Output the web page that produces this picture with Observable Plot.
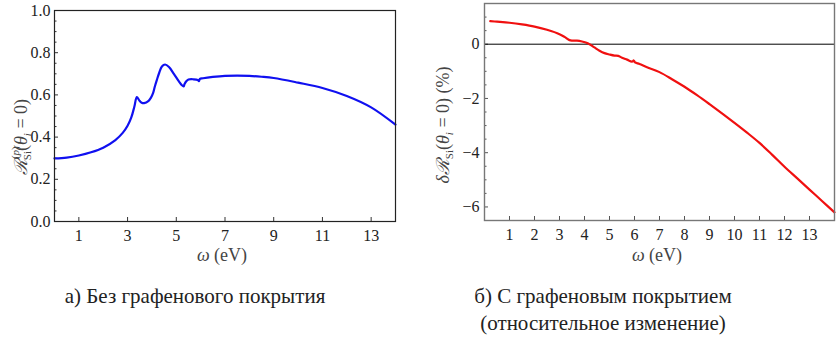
<!DOCTYPE html>
<html><head><meta charset="utf-8">
<script src="https://cdn.jsdelivr.net/npm/d3@7"></script>
<script src="https://cdn.jsdelivr.net/npm/@observablehq/plot@0.6"></script>
<style>
body{margin:0;background:#fff;}
#wrap{position:relative;width:838px;height:339px;font-family:'Liberation Serif',serif;color:#222;}
#pa{position:absolute;left:0;top:0;}
#pb{position:absolute;left:420px;top:0;}
svg text{font-family:'Liberation Serif',serif;}
.cap{position:absolute;font-family:'Liberation Serif',serif;font-size:21px;line-height:27px;white-space:nowrap;text-align:center;}
</style>
</head><body>
<div id="wrap">
  <div id="pa"></div>
  <div id="pb"></div>
  <div class="cap" id="ca" style="left:36px;top:283px;width:318px;">а) Без графенового покрытия</div>
  <div class="cap" id="cb" style="left:464px;top:283px;width:278px;">б) С графеновым покрытием<br>(относительное изменение)</div>
</div>
<script>
// Panel a: reflectivity without graphene
const omegaA = [0, 0.5, 1, 1.5, 2, 2.5, 2.8, 3, 3.15, 3.28, 3.38, 3.48, 3.58, 3.68, 3.85, 3.95, 4.05, 4.12, 4.2, 4.3, 4.41, 4.54, 4.7, 4.9, 5.1, 5.22, 5.3, 5.34, 5.42, 5.5, 5.7, 5.88, 5.93, 5.97, 6.1, 6.5, 7, 7.5, 8, 8.5, 9, 10, 11, 12, 13, 14];
const reflA  = [0.299, 0.303, 0.313, 0.328, 0.350, 0.386, 0.420, 0.454, 0.492, 0.545, 0.590, 0.574, 0.563, 0.561, 0.570, 0.585, 0.610, 0.640, 0.670, 0.705, 0.735, 0.744, 0.732, 0.700, 0.665, 0.647, 0.640, 0.652, 0.666, 0.673, 0.674, 0.671, 0.665, 0.676, 0.679, 0.685, 0.690, 0.691, 0.690, 0.686, 0.680, 0.658, 0.633, 0.595, 0.541, 0.459];
// Panel b: relative change with graphene (%)
const omegaB = [0.23, 0.5, 1, 1.5, 2, 2.5, 3, 3.2, 3.4, 3.5, 3.7, 3.9, 4.05, 4.2, 4.4, 4.6, 4.8, 5.0, 5.2, 5.35, 5.5, 5.7, 5.9, 5.97, 6.02, 6.2, 6.5, 7, 7.5, 8, 8.5, 9, 9.5, 10, 10.5, 11, 11.5, 12, 12.5, 13, 13.5, 14];
const deltaB = [0.85, 0.83, 0.79, 0.73, 0.65, 0.53, 0.37, 0.27, 0.15, 0.13, 0.13, 0.10, 0.06, 0.0, -0.12, -0.24, -0.33, -0.38, -0.42, -0.43, -0.50, -0.57, -0.64, -0.60, -0.67, -0.73, -0.85, -1.03, -1.29, -1.57, -1.88, -2.21, -2.55, -2.90, -3.26, -3.64, -4.07, -4.52, -4.94, -5.36, -5.78, -6.20];

const xTicksA = [1, 3, 5, 7, 9, 11, 13];
const yTicksA = [0, 0.2, 0.4, 0.6, 0.8, 1.0];
const yMinorA = [0.05, 0.1, 0.15, 0.25, 0.3, 0.35, 0.45, 0.5, 0.55, 0.65, 0.7, 0.75, 0.85, 0.9, 0.95];
const xTicksB = [1,2,3,4,5,6,7,8,9,10,11,12,13];
const yTicksB = [0, -2, -4, -6];
const yMinorB = [1.5, 1, 0.5, -0.5, -1, -1.5, -2.5, -3, -3.5, -4.5, -5, -5.5, -6.5];

const dataA = omegaA.map((x,i)=>({x, y: reflA[i]}));
const dataB = omegaB.map((x,i)=>({x, y: deltaB[i]}));

const FONT = "'Liberation Serif',serif";
const style = {fontFamily:FONT, fontSize:"16px", background:"#fff", color:"#222"};

function innerAxes(xt, yt, ym, color){
  return [
    Plot.axisX(xt, {tickSize:4, tickFormat:()=>"", dy:-4, stroke:color, label:null}),
    Plot.axisY(yt, {tickSize:4, tickFormat:()=>"", dx:4, stroke:color, label:null}),
    Plot.axisY(ym, {tickSize:2.5, tickFormat:()=>"", dx:2.5, stroke:color, label:null}),
    Plot.axisX(xt, {tickSize:0, tickPadding:8, fill:"#222", label:null}),
  ];
}

const plotA = Plot.plot({
  width:420, height:270, marginLeft:54, marginRight:25, marginTop:10, marginBottom:49,
  style,
  x:{domain:[0,14], label:null},
  y:{domain:[0,1], label:null},
  marks:[
    ...innerAxes(xTicksA, yTicksA, yMinorA, "#333"),
    Plot.axisY(yTicksA, {tickSize:0, tickPadding:4, tickFormat:d3.format(".1f"), fill:"#222", label:null}),
    Plot.line(dataA, {x:"x", y:"y", stroke:"#1010f0", strokeWidth:2.2, curve:"catmull-rom"}),
    Plot.frame({stroke:"#222", strokeWidth:1.2})
  ]
});

const plotB = Plot.plot({
  width:418, height:270, marginLeft:64, marginRight:4, marginTop:3, marginBottom:50,
  style,
  x:{domain:[0,14], label:null},
  y:{domain:[-6.5,1.5], label:null},
  marks:[
    ...innerAxes(xTicksB, yTicksB, yMinorB, "#555"),
    Plot.axisY(yTicksB, {tickSize:0, tickPadding:5, tickFormat:d3.format("d"), fill:"#222", label:null}),
    Plot.ruleY([0], {stroke:"#000", strokeWidth:1}),
    Plot.line(dataB, {x:"x", y:"y", stroke:"#f01010", strokeWidth:2.2, curve:"catmull-rom"}),
    Plot.frame({stroke:"#777", strokeWidth:1.4})
  ]
});

document.getElementById("pa").appendChild(plotA);
document.getElementById("pb").appendChild(plotB);

function addXLabel(svg, cx, cy){
  const t = d3.select(svg).append("text").attr("x",cx).attr("y",cy).attr("text-anchor","middle")
    .style("font-size","18px").style("font-family",FONT).attr("fill","#444");
  t.append("tspan").text("ω").style("font-style","italic");
  t.append("tspan").text(" (eV)");
}
addXLabel(plotA, 222, 261);
addXLabel(plotB, 237, 261);

// Y labels
{
  const t = d3.select(plotA).append("text").attr("transform","translate(27,137) rotate(-90)")
    .attr("text-anchor","middle").style("font-size","18px").style("font-family",FONT).attr("fill","#444");
  t.append("tspan").text("ℛ").style("font-family","DejaVu Serif").style("font-style","italic");
  t.append("tspan").text("(").attr("dy",-8).style("font-size","11px");
  t.append("tspan").text("p").style("font-size","11px").style("font-style","italic");
  t.append("tspan").text(")").style("font-size","11px");
  t.append("tspan").text("Si").attr("dx",-14).attr("dy",12).style("font-size","11px");
  t.append("tspan").text("(").attr("dy",-4);
  t.append("tspan").text("θ").style("font-style","italic");
  t.append("tspan").text("i").attr("dy",4).style("font-size","11px").style("font-style","italic");
  t.append("tspan").text(" = 0)").attr("dy",-4);
}
{
  const t = d3.select(plotB).append("text").attr("transform","translate(29,125) rotate(-90)")
    .attr("text-anchor","middle").style("font-size","18px").style("font-family",FONT).attr("fill","#444");
  t.append("tspan").text("δ").style("font-style","italic");
  t.append("tspan").text("ℛ").style("font-family","DejaVu Serif").style("font-style","italic");
  t.append("tspan").text("Si").attr("dy",4).style("font-size","11px");
  t.append("tspan").text("(").attr("dy",-4);
  t.append("tspan").text("θ").style("font-style","italic");
  t.append("tspan").text("i").attr("dy",4).style("font-size","11px").style("font-style","italic");
  t.append("tspan").text(" = 0) (%)").attr("dy",-4);
}
</script>
</body></html>
